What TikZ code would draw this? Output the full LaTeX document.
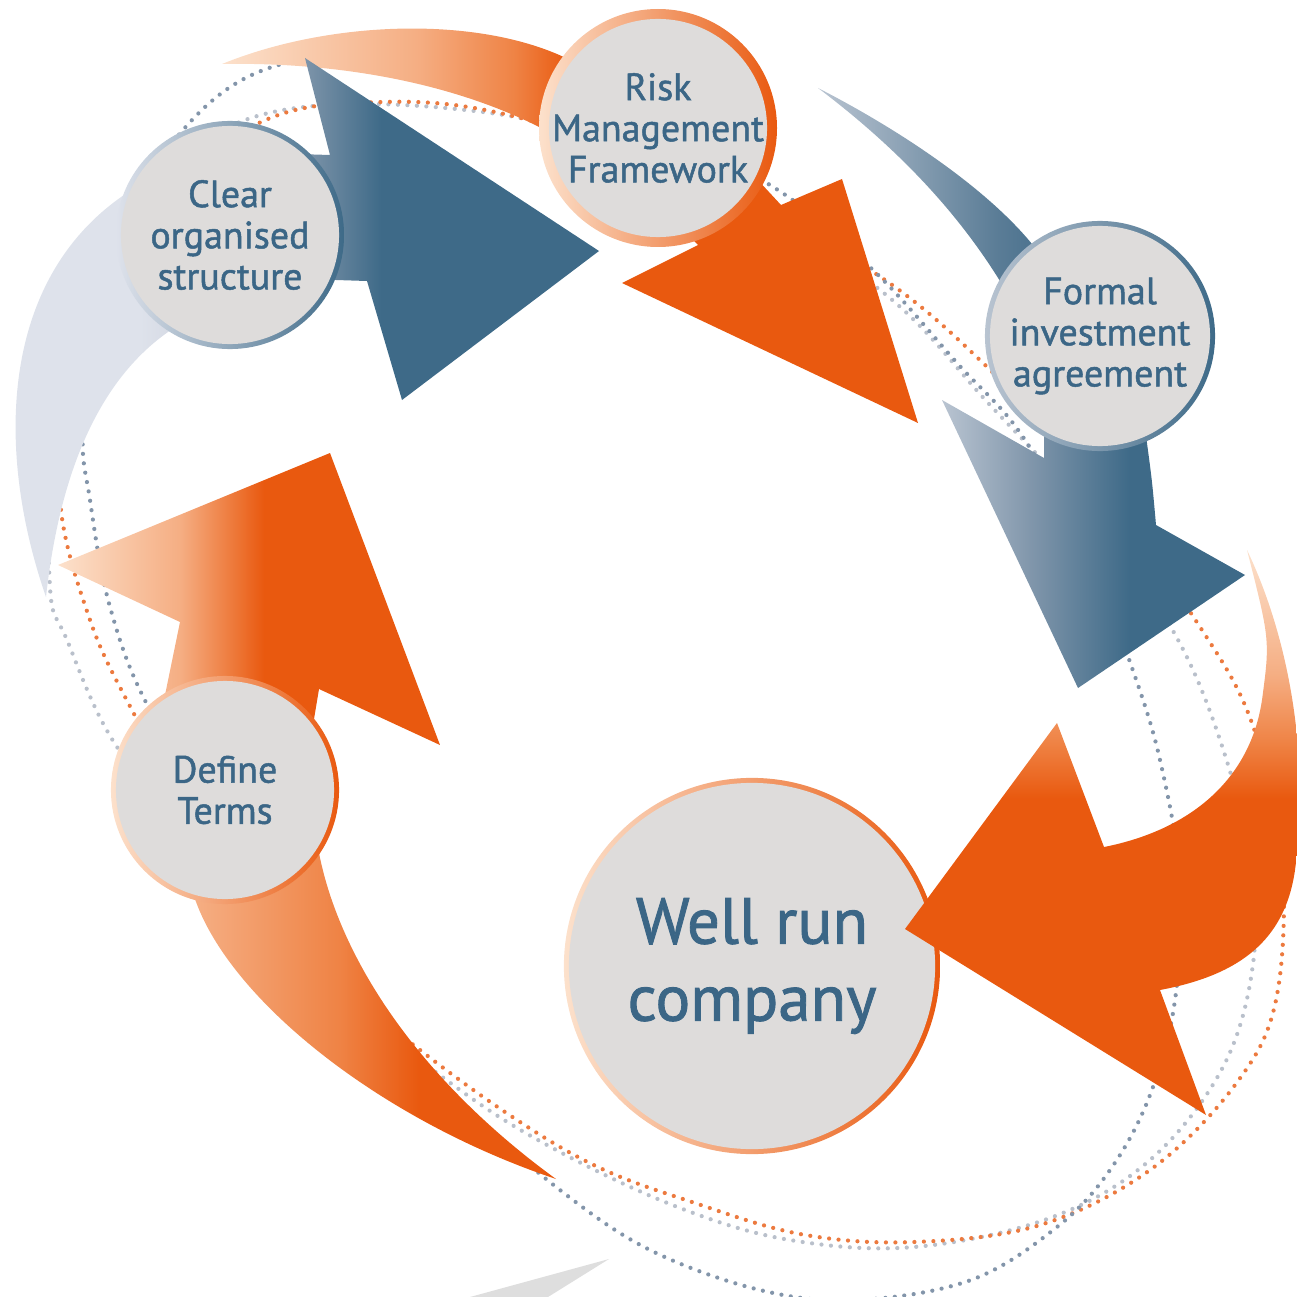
\documentclass[tikz,border=0pt]{standalone}
\usepackage{fontspec}
\setmainfont{PT Sans}
\newfontfamily\dinfont{PT Sans}[FakeBold=1.3]

\definecolor{orng}{RGB}{233,89,15}
\definecolor{orngmid}{RGB}{239,131,69}
\definecolor{peachmid}{RGB}{245,174,131}
\definecolor{peachpale}{RGB}{252,225,204}
\definecolor{bluedk}{RGB}{62,106,136}
\definecolor{bluemid}{RGB}{127,149,170}
\definecolor{bluemidd}{RGB}{90,124,150}
\definecolor{bluepale}{RGB}{185,196,209}
\definecolor{lav}{RGB}{222,226,235}
\definecolor{lavdk}{RGB}{195,202,214}
\definecolor{bubblegray}{RGB}{222,220,219}
\definecolor{txtblue}{RGB}{59,102,134}
\definecolor{dotorng}{RGB}{236,122,63}
\definecolor{dotblue}{RGB}{131,149,170}
\definecolor{dotgray}{RGB}{185,192,203}
\definecolor{wedgegray}{RGB}{222,222,222}

\pgfdeclarehorizontalshading{riskshade}{100bp}{color(0bp)=(peachpale); color(25bp)=(peachpale); color(39bp)=(peachmid); color(46bp)=(orngmid); color(50bp)=(orng); color(100bp)=(orng)}
\pgfdeclarehorizontalshading{clearshade}{100bp}{color(0bp)=(lav); color(37bp)=(lav); color(46bp)=(lavdk); color(50.5bp)=(bluemid); color(57bp)=(bluedk); color(100bp)=(bluedk)}
\pgfdeclarehorizontalshading{headshade}{100bp}{color(0bp)=(peachpale); color(25bp)=(peachpale); color(41bp)=(peachmid); color(52bp)=(orng); color(100bp)=(orng)}
\pgfdeclarehorizontalshading{tailshade}{100bp}{color(0bp)=(peachmid); color(25bp)=(peachmid); color(45bp)=(orngmid); color(56bp)=(orng); color(100bp)=(orng)}
\pgfdeclarehorizontalshading{formaltail}{100bp}{color(0bp)=(bluepale); color(25bp)=(bluepale); color(57bp)=(bluemidd); color(70bp)=(bluedk); color(100bp)=(bluedk)}
\pgfdeclarehorizontalshading{formalhead}{100bp}{color(0bp)=(bluepale); color(25bp)=(bluepale); color(40bp)=(bluemid); color(56bp)=(bluedk); color(100bp)=(bluedk)}
\pgfdeclareverticalshading{wellshade}{100bp}{color(0bp)=(orng); color(53bp)=(orng); color(58bp)=(orngmid); color(64bp)=(peachmid); color(75bp)=(peachpale); color(100bp)=(peachpale)}

\begin{document}
\begin{tikzpicture}[x = 0.01cm, y = -0.01cm,
    bubble/.style n args = {3}{circle, inner sep = 0pt, align = center, text = txtblue,
        minimum size = #1, left color = #2, right color = #3,
        path picture = {\fill[bubblegray] (path picture bounding box.center) circle [radius = #1/2 - 0.05cm];}},
    ringdots/.style = {draw = #1, line width = 1.2pt, dash pattern = on 0pt off 2.7pt, line cap = round},
    smalltext/.style = {font = \dinfont\fontsize{10.8}{11.7}\selectfont},
    bigtext/.style = {font = \dinfont\fontsize{18.5}{21.9}\selectfont}]
    \useasboundingbox (0,0) rectangle (1296,1297);

    % dotted rings
    \draw[ringdots = dotgray] plot [smooth cycle, tension = 0.6] coordinates {(50,587) (55,440) (110,265) (240,122) (483,112) (700,178) (880,290) (990,405) (1100,525) (1177,638) (1223,749) (1250,860) (1253,964) (1223,1067) (1150,1160) (1050,1218) (914,1247) (790,1240) (680,1208) (560,1152) (460,1090) (330,985) (210,855) (117,747) (67,640)};
    \draw[ringdots = dotorng] plot [smooth cycle, tension = 0.6] coordinates {(60,500) (72,370) (125,235) (255,125) (383,102) (517,117) (700,180) (870,270) (983,363) (1100,490) (1200,627) (1253,726) (1282,860) (1276,1000) (1235,1085) (1150,1170) (1040,1225) (914,1242) (800,1234) (686,1200) (600,1168) (520,1122) (420,1050) (300,950) (200,830) (133,712) (90,620)};
    \draw[ringdots = dotblue] plot [smooth cycle, tension = 0.6] coordinates {(290,62) (460,65) (620,115) (770,185) (873,270) (957,363) (1023,437) (1090,560) (1131,665) (1160,760) (1180,880) (1175,1000) (1150,1095) (1110,1170) (1057,1227) (971,1280) (857,1300) (760,1290) (650,1250) (560,1190) (469,1110) (350,990) (240,850) (150,710) (110,607) (90,500) (83,427) (100,280) (183,130)};

    \fill[wedgegray] (470,1297) -- (609,1259) -- (548,1297) -- cycle;

    % risk arrow
    \shade[shading = riskshade] (222,64) .. controls (330,20) and (480,15) .. (570,60) -- (658,128) -- (756,178) -- (781,205) -- (842,179) -- (918,423) -- (622,283) -- (698,245) -- (689,236) -- (658,128) -- (547,131) .. controls (450,80) and (330,62) .. (222,64) -- cycle;

    % clear arrow
    \shade[shading = clearshade] (46,597) .. controls (-5,450) and (0,280) .. (124,195) -- (230,200) -- (297,154) -- (330,155) -- (305,58) -- (599,251) -- (402,400) -- (367,281) -- (336,280) -- (230,270) -- (168,332) .. controls (100,380) and (60,470) .. (46,597) -- cycle;

    % define arrow
    \shade[shading = tailshade] (195,899) .. controls (230,1000) and (380,1120) .. (556,1179) .. controls (420,1080) and (340,960) .. (319,853) -- (225,790) -- cycle;
    \shade[shading = headshade] (225,790) -- (164,700) -- (180,622) -- (58,565) -- (330,453) -- (440,745) -- (319,689) -- (313,725) -- cycle;

    % formal arrow, tail
    \shade[shading = formaltail] (818,88) .. controls (900,130) and (990,190) .. (1036,249) -- (1100,336) -- (1003,286) .. controls (960,215) and (900,150) .. (818,88) -- cycle;

    \node[bubble = {2.28cm}{peachpale}{orng}, smalltext] (risk) at (658,128) {Risk\\Management\\Framework};
    \node[bubble = {2.28cm}{lav}{bluedk}, smalltext] (clear) at (230,235) {Clear\\organised\\structure};
    \node[bubble = {2.28cm}{peachpale}{orng}, smalltext] (define) at (225,790) {Define\\Terms};
    \node[bubble = {3.76cm}{peachpale}{orng}, bigtext] (wellrun) at (752,966) {Well run\\company};

    % well run arrow
    \shade[shading = wellshade] (1247,550) .. controls (1290,640) and (1310,760) .. (1295,870) .. controls (1285,940) and (1240,975) .. (1160,990) -- (1206,1115) -- (905,929) -- (1057,723) -- (1104,847) .. controls (1190,830) and (1250,780) .. (1262,700) .. controls (1270,640) .. (1247,550) -- cycle;

    % formal arrow, head
    \shade[shading = formalhead] (1100,336) -- (1044,431) -- (1044,458) -- (942,400) -- (1078,688) -- (1245,575) -- (1156,525) .. controls (1152,480) .. (1146,436) -- cycle;

    \node[bubble = {2.30cm}{bluepale}{bluedk}, smalltext] (formal) at (1100,336) {Formal\\investment\\agreement};
\end{tikzpicture}
\end{document}
